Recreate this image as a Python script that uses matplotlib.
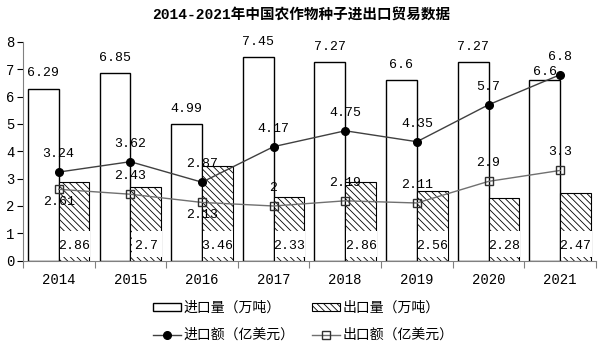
import numpy as np
import matplotlib.pyplot as plt

# 数据
years = ['2014', '2015', '2016', '2017', '2018', '2019', '2020', '2021']
import_vol = [6.29, 6.85, 4.99, 7.45, 7.27, 6.6, 7.27, 6.6]
export_vol = [2.86, 2.7, 3.46, 2.33, 2.86, 2.56, 2.28, 2.47]
import_amt = [3.24, 3.62, 2.87, 4.17, 4.75, 4.35, 5.7, 6.8]
export_amt = [2.61, 2.43, 2.13, 2, 2.19, 2.11, 2.9, 3.3]

# 出口额标签上下位置 (1 上, -1 下)
export_amt_side = [-1, 1, -1, 1, 1, 1, 1, 1]

plt.rcParams['font.family'] = ['Liberation Mono', 'Noto Sans CJK SC']
plt.rcParams['hatch.linewidth'] = 0.6

fig = plt.figure(figsize=(6.02, 3.49), dpi=100)
ax = fig.add_axes([0.038, 0.253, 0.952, 0.627])

x = np.arange(len(years))
w = 0.43

b1 = ax.bar(x - w / 2, import_vol, w, color='white', edgecolor='black', linewidth=1,
            label='进口量（万吨）', zorder=2)
b2 = ax.bar(x + w / 2, export_vol, w, color='white', edgecolor='black', linewidth=0.8,
            hatch='\\\\\\\\\\', label='出口量（万吨）', zorder=2)
# 出口量标签的白色底
ax.bar(x + w / 2 + 0.012, 0.98, w * 0.98, bottom=0.12, color='white', linewidth=0, zorder=3)

l1, = ax.plot(x, import_amt, color='#404040', linewidth=1, marker='o', markersize=5.5,
              markerfacecolor='black', markeredgecolor='black', label='进口额（亿美元）', zorder=4)
l2, = ax.plot(x, export_amt, color='#707070', linewidth=1, marker='s', markersize=6,
              markerfacecolor='none', markeredgecolor='#303030', label='出口额（亿美元）', zorder=4)

fs = 9.5
for i in range(len(years)):
    off_v = 6 if i == len(years) - 1 else 11
    ax.annotate(str(import_vol[i]), (x[i] - w / 2, import_vol[i]), xytext=(0, off_v),
                textcoords='offset points', ha='center', va='center', fontsize=fs, zorder=5)
    ax.text(x[i] + w / 2, 0.55, str(export_vol[i]), ha='center', va='center', fontsize=fs, zorder=5)
    ax.annotate(str(import_amt[i]), (x[i], import_amt[i]), xytext=(0, 13),
                textcoords='offset points', ha='center', va='center', fontsize=fs, zorder=5)
    off = 13 if export_amt_side[i] > 0 else -9
    ax.annotate(str(export_amt[i]), (x[i], export_amt[i]), xytext=(0, off),
                textcoords='offset points', ha='center', va='center', fontsize=fs, zorder=5)

ax.set_xlim(-0.5, len(years) - 0.5)
ax.set_ylim(0, 8)
ax.set_yticks(range(0, 9))
ax.tick_params(axis='y', labelsize=10, length=4, width=0.8, pad=2)
ax.set_xticks(x)
ax.set_xticklabels(years)
ax.set_xticks(np.arange(-0.5, len(years)), minor=True)
ax.tick_params(axis='x', which='major', length=0, labelsize=10, pad=9)
ax.tick_params(axis='x', which='minor', length=5, width=0.8, color='#808080')
for s in ['top', 'right']:
    ax.spines[s].set_visible(False)
ax.spines['bottom'].set_color('#808080')
ax.spines['left'].set_color('#808080')

fig.text(0.5, 0.957, '2014-2021年中国农作物种子进出口贸易数据', ha='center', va='center',
         fontsize=10.5, fontweight='bold')

fig.legend([b1, l1, b2, l2], ['进口量（万吨）', '进口额（亿美元）', '出口量（万吨）', '出口额（亿美元）'],
           ncol=2, loc='center', bbox_to_anchor=(0.504, 0.079), frameon=False,
           fontsize=10, handlelength=2.0, handleheight=0.5, columnspacing=1.3,
           labelspacing=0.95, handletextpad=0.2, borderpad=0)

fig.savefig('out.png', dpi=100)
